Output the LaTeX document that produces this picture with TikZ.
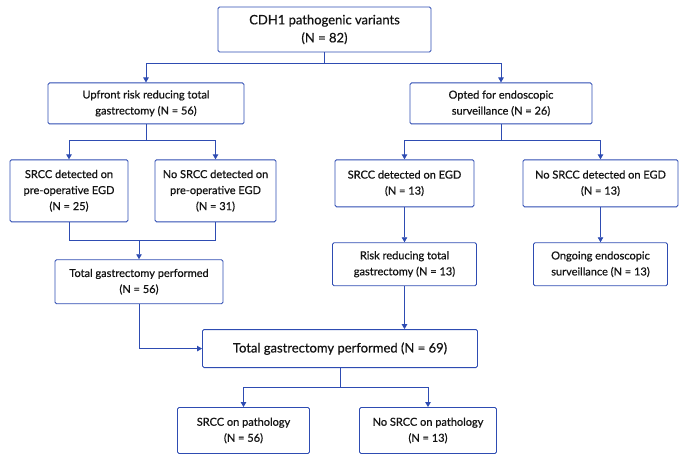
\documentclass[tikz,border=0pt]{standalone}
\usepackage{fontspec}
\setmainfont{Lato}[FakeBold=0.7]
\usetikzlibrary{arrows.meta,positioning}
\definecolor{flowblue}{RGB}{46,76,178}
\definecolor{txt}{RGB}{20,20,20}

\begin{document}
\begin{tikzpicture}[
  box/.style={draw=flowblue, line width=0.9pt, rounded corners=1.5pt, align=center, inner sep=0pt, text=txt, font=\fontsize{11}{16}\selectfont},
  bigbox/.style={box, font=\fontsize{13}{18}\selectfont},
  line/.style={draw=flowblue, line width=0.9pt},
  arr/.style={line, -{Triangle[length=5pt,width=5.5pt]}}
]
\useasboundingbox (0,0) rectangle (685pt,-458pt);

\node[bigbox, minimum width=213pt, minimum height=45pt] (top) at (324.5pt,-29.5pt) {CDH1 pathogenic variants\\(N = 82)};
\node[box, minimum width=196pt, minimum height=41pt, below=30pt of top, xshift=-178.5pt] (up) {Upfront risk reducing total\\gastrectomy (N = 56)};
\node[box, minimum width=182pt, minimum height=41pt, below=30pt of top, xshift=176.5pt] (opt) {Opted for endoscopic\\surveillance (N = 26)};

\node[box, minimum width=118pt, minimum height=62pt, below=35pt of up, xshift=-77pt] (srccpre) {SRCC detected on\\pre-operative EGD\\(N = 25)};
\node[box, minimum width=121pt, minimum height=62pt, below=35pt of up, xshift=69.5pt] (nopre) {No SRCC detected on\\pre-operative EGD\\(N = 31)};
\node[box, minimum width=139pt, minimum height=47pt, below=35pt of opt, xshift=-96.5pt] (srccegd) {SRCC detected on EGD\\(N = 13)};
\node[box, minimum width=155pt, minimum height=47pt, below=35pt of opt, xshift=99.5pt] (noegd) {No SRCC detected on EGD\\(N = 13)};

\node[box, minimum width=168pt, minimum height=44pt, below=37pt of srccpre, xshift=70pt] (tg56) {Total gastrectomy performed\\(N = 56)};
\node[box, minimum width=144pt, minimum height=43pt, below=35pt of srccegd] (rr) {Risk reducing total\\gastrectomy (N = 13)};
\node[box, minimum width=134pt, minimum height=43pt, below=35pt of noegd] (ong) {Ongoing endoscopic\\surveillance (N = 13)};

\node[bigbox, minimum width=275pt, minimum height=38pt, below=43pt of rr, xshift=-64.5pt] (tg69) {Total gastrectomy performed (N = 69)};
\node[box, minimum width=132pt, minimum height=46pt, below=39pt of tg69, xshift=-96.5pt] (srccp) {SRCC on pathology\\(N = 56)};
\node[box, minimum width=137pt, minimum height=46pt, below=39pt of tg69, xshift=88pt] (nosrccp) {No SRCC on pathology\\(N = 13)};

% splits
\draw[arr] (top.south) -- ++(0,-11pt) -| (up.north);
\draw[arr] (top.south) -- ++(0,-11pt) -| (opt.north);
\draw[arr] (up.south) -- ++(0,-16pt) -| (srccpre.north);
\draw[arr] (up.south) -- ++(0,-16pt) -| (nopre.north);
\draw[arr] (opt.south) -- ++(0,-16pt) -| (srccegd.north);
\draw[arr] (opt.south) -- ++(0,-16pt) -| (noegd.north);

% merge into total gastrectomy
\draw[line] (srccpre.south) -- ++(0,-18pt) coordinate (j1) -| (nopre.south);
\draw[arr] (j1 -| tg56.north) -- (tg56.north);
\draw[arr] (srccegd) -- (rr);
\draw[arr] (noegd) -- (ong);
\draw[arr] (tg56.south) |- (tg69.west);
\draw[arr] (rr.south) -- (rr.south |- tg69.north);

% pathology
\draw[arr] (tg69.south) -- ++(0,-19pt) -| (srccp.north);
\draw[arr] (tg69.south) -- ++(0,-19pt) -| (nosrccp.north);
\end{tikzpicture}
\end{document}
